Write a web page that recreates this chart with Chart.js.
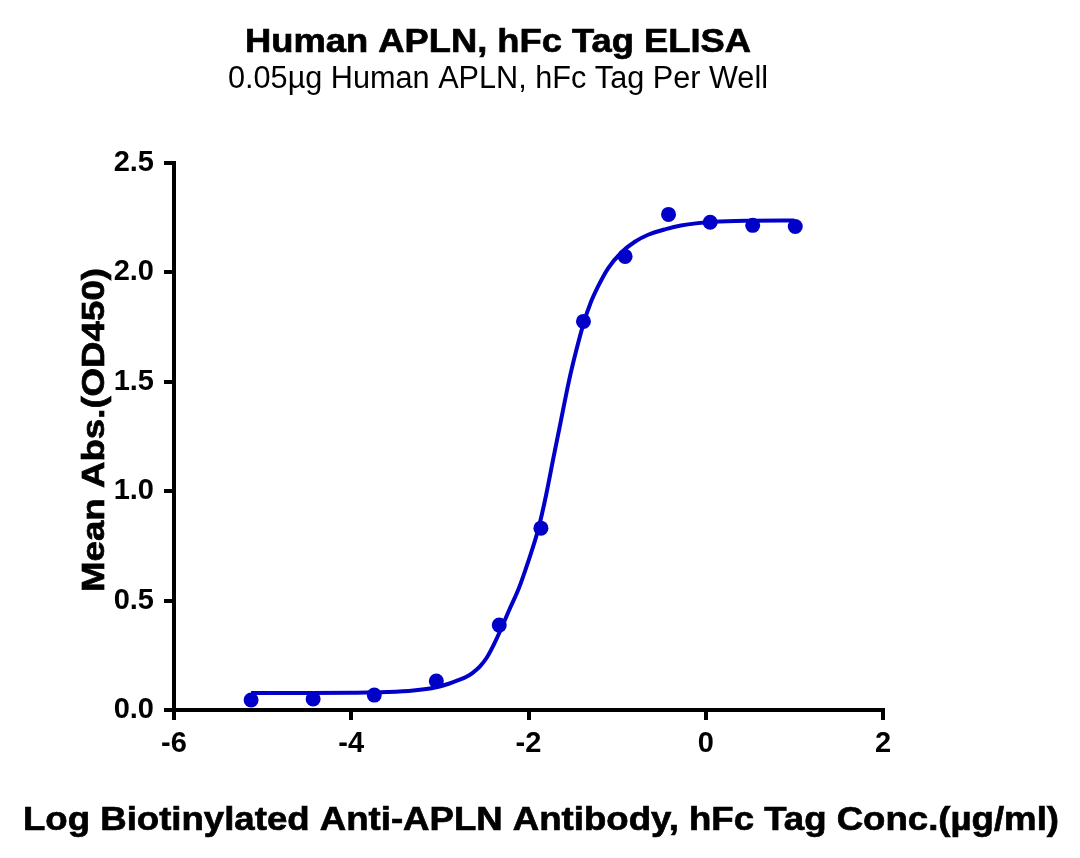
<!DOCTYPE html>
<html>
<head>
<meta charset="utf-8">
<script src="https://cdn.jsdelivr.net/npm/chart.js@4.4.1/dist/chart.umd.min.js"></script>
<style>
html, body { margin: 0; padding: 0; background: #fff; }
#wrap { width: 1080px; height: 858px; }
</style>
</head>
<body>
<div id="wrap"><canvas id="elisaChart" width="1080" height="858"></canvas></div>
<script>
// measured points: log concentration vs mean absorbance
const logConc = [-5.13, -4.43, -3.74, -3.04, -2.33, -1.86, -1.38, -0.91, -0.42, 0.05, 0.53, 1.01];
const meanAbs = [0.046, 0.050, 0.068, 0.132, 0.388, 0.831, 1.776, 2.073, 2.265, 2.229, 2.215, 2.210];

// fitted curve
const fitX = [-5.13, -4.5, -4.0, -3.6, -3.3, -3.04, -2.9, -2.8, -2.7, -2.63, -2.55, -2.47, -2.39, -2.31,
    -2.22, -2.11, -2.01, -1.89, -1.80, -1.72, -1.65, -1.54, -1.46, -1.38, -1.30, -1.215, -1.10, -0.955,
    -0.80, -0.65, -0.45, -0.28, 0.09, 0.5, 1.0];
const fitY = [0.078, 0.078, 0.079, 0.082, 0.089, 0.104, 0.12, 0.135, 0.152, 0.17, 0.198, 0.24, 0.30, 0.37,
    0.455, 0.555, 0.67, 0.826, 0.985, 1.15, 1.29, 1.51, 1.645, 1.765, 1.86, 1.936, 2.02, 2.09,
    2.14, 2.172, 2.198, 2.214, 2.231, 2.236, 2.237];

const xTicks = [-6, -4, -2, 0, 2];
const yTicks = [0, 0.5, 1.0, 1.5, 2.0, 2.5];

const titleText = 'Human APLN, hFc Tag ELISA';
const subtitleText = '0.05µg Human APLN, hFc Tag Per Well';
const xTitle = 'Log Biotinylated Anti-APLN Antibody, hFc Tag Conc.(µg/ml)';
const yTitle = 'Mean Abs.(OD450)';

const blue = '#0000C8';
const fontFam = '"Liberation Sans", Arial, Helvetica, sans-serif';

// draws text squeezed/stretched to a given width
function fitText(ctx, text, font, cx, baseY, width, rotate, heavy) {
    ctx.save();
    ctx.font = font;
    const w = ctx.measureText(text).width;
    ctx.translate(cx, baseY);
    if (rotate) ctx.rotate(-Math.PI / 2);
    ctx.scale(width / w, 1);
    ctx.textAlign = 'center';
    ctx.textBaseline = 'alphabetic';
    ctx.fillStyle = '#000';
    ctx.fillText(text, 0, 0);
    if (heavy) {
        ctx.strokeStyle = '#000';
        ctx.lineWidth = 0.7;
        ctx.strokeText(text, 0, 0);
    }
    ctx.restore();
}

const textPlugin = {
    id: 'textPlugin',
    afterDraw(chart) {
        const ctx = chart.ctx;
        fitText(ctx, titleText, 'bold 34px ' + fontFam, 498, 52, 506, false, true);
        fitText(ctx, subtitleText, '31px ' + fontFam, 498, 88, 540);
        fitText(ctx, xTitle, 'bold 34px ' + fontFam, 541, 830, 1036, false, true);
        fitText(ctx, yTitle, 'bold 31px ' + fontFam, 104, 430, 324, true, true);
    }
};

const axisGrid = {
    drawOnChartArea: false,
    drawTicks: true,
    tickLength: 10,
    tickWidth: 4,
    tickColor: '#000',
    color: '#000',
    lineWidth: 4
};

new Chart(document.getElementById('elisaChart'), {
    type: 'scatter',
    data: {
        datasets: [
            {
                data: fitX.map((x, i) => ({ x: x, y: fitY[i] })),
                showLine: true,
                borderColor: blue,
                borderWidth: 4,
                pointRadius: 0,
                cubicInterpolationMode: 'monotone',
                clip: false
            },
            {
                data: logConc.map((x, i) => ({ x: x, y: meanAbs[i] })),
                showLine: false,
                backgroundColor: blue,
                borderColor: blue,
                pointRadius: 7.5,
                pointBorderWidth: 0,
                clip: false
            }
        ]
    },
    options: {
        responsive: false,
        devicePixelRatio: 1,
        animation: false,
        layout: { padding: { top: 163, right: 197, bottom: 0, left: 0 } },
        plugins: { legend: { display: false }, tooltip: { enabled: false } },
        scales: {
            x: {
                type: 'linear',
                min: xTicks[0],
                max: xTicks[xTicks.length - 1],
                afterFit: s => { s.height = 148; },
                afterBuildTicks: s => { s.ticks = xTicks.map(v => ({ value: v })); },
                ticks: {
                    color: '#000',
                    font: { family: fontFam, size: 29, weight: 'bold' },
                    padding: 7,
                    maxRotation: 0,
                    callback: v => String(v)
                },
                grid: axisGrid,
                border: { display: true, color: '#000', width: 4 }
            },
            y: {
                type: 'linear',
                min: yTicks[0],
                max: yTicks[yTicks.length - 1],
                afterFit: s => { s.width = 174; },
                afterBuildTicks: s => { s.ticks = yTicks.map(v => ({ value: v })); },
                ticks: {
                    color: '#000',
                    font: { family: fontFam, size: 29, weight: 'bold' },
                    padding: 10,
                    callback: v => v.toFixed(1)
                },
                grid: axisGrid,
                border: { display: true, color: '#000', width: 4 }
            }
        }
    },
    plugins: [textPlugin]
});
</script>
</body>
</html>
